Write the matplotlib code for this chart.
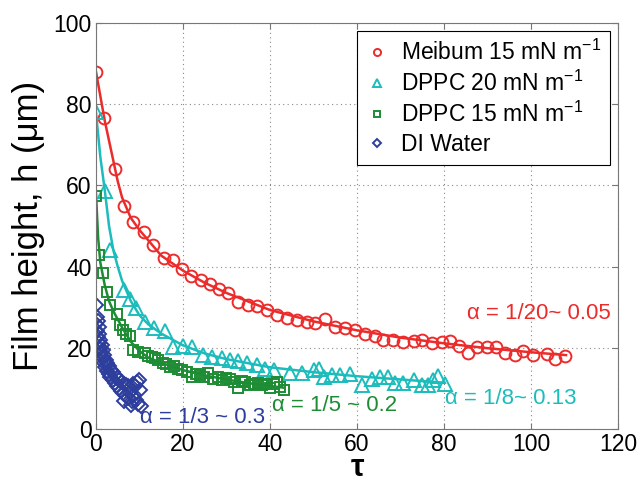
import numpy as np
import matplotlib
matplotlib.use("Agg")
import matplotlib.pyplot as plt

# ---- data ----
meibum_tau = [0, 1.9, 4.4, 6.4, 8.6, 11.0, 13.2, 15.6, 17.8, 19.8, 21.8, 24.1, 26.2, 28.3,
              30.4, 32.6, 34.9, 37.0, 39.2, 41.5, 43.8, 46.1, 48.4, 50.3, 52.6, 54.9, 57.2,
              59.5, 61.8, 64.1, 66.0, 68.3, 70.6, 73.0, 75.0, 77.2, 79.5, 81.4, 83.5, 85.4,
              87.5, 89.8, 92.0, 94.0, 96.3, 98.2, 100.4, 103.6, 105.5, 107.8]
meibum_h = [88, 76.5, 64, 55, 51, 48.5, 45.2, 42.2, 41.5, 39.5, 37.6, 36.6, 35.6, 34.4,
            33.6, 31.4, 30.6, 30.4, 29.2, 28.2, 27.4, 26.8, 26.4, 26.0, 27.0, 25.1, 24.9,
            24.3, 23.5, 22.9, 22.0, 21.9, 21.4, 21.7, 22.0, 21.2, 21.4, 21.7, 20.4, 18.8,
            20.1, 20.2, 20.2, 18.6, 18.2, 19.2, 18.2, 18.4, 17.2, 18.0]
meibum_fit_tau = [0, 1, 2, 3, 4, 5, 6, 8, 10, 12, 15, 20, 25, 30, 40, 50, 60, 70, 80, 90, 100, 108]
meibum_fit_h = [88, 82, 76, 71, 66, 61, 57, 52, 49, 46.5, 42.7, 39, 36, 33.5, 29.3, 26.5,
                24.3, 22.5, 21.1, 19.9, 18.9, 18.2]

dppc20_tau = [0, 2.1, 3.2, 6.5, 7.8, 9.1, 11.3, 13.4, 15.8, 17.8, 20.1, 22.0, 24.7, 26.6,
              28.9, 30.8, 32.7, 34.6, 36.9, 38.9, 40.8, 44.6, 47.3, 50.0, 51.3, 52.3, 54.2,
              56.1, 58.4, 61.1, 63.4, 65.3, 67.2, 68.7, 70.6, 73.0, 74.9, 76.4, 77.5, 78.7, 80.2]
dppc20_h = [78, 58.7, 44, 34.2, 32.1, 29.7, 26.4, 24.9, 24.2, 20.2, 20.4, 20.2, 18.2, 17.8,
            17.4, 17.0, 16.8, 16.3, 15.7, 14.9, 14.5, 13.7, 13.9, 14.5, 14.9, 12.8, 13.3,
            13.3, 13.5, 10.8, 12.4, 12.8, 12.8, 11.4, 11.4, 12.0, 10.8, 10.8, 12.0, 13.0, 11.1]
dppc20_fit_tau = [0, 1, 2, 3, 4, 5, 6, 8, 10, 12, 15, 20, 25, 30, 40, 50, 60, 70, 80]
dppc20_fit_h = [78, 67, 59, 50, 44, 40, 36.5, 31.5, 28, 25.8, 23.5, 20.6, 18.6, 17.2, 15.2,
                14, 13, 12.2, 11.4]

dppc15_tau = [0, 0.7, 1.7, 2.5, 3.2, 4.8, 5.5, 6.3, 7.0, 7.8, 8.6, 9.7, 11.3, 12.0, 12.8,
              13.6, 14.3, 15.5, 16.2, 17.0, 18.0, 18.9, 19.8, 20.8, 22.0, 23.0, 23.9, 24.8,
              25.8, 27.0, 28.0, 28.9, 29.8, 30.8, 31.8, 32.7, 33.5, 34.3, 35.3, 36.2, 37.2,
              38.1, 39.0, 40.0, 40.8, 41.5, 42.3, 43.1]
dppc15_h = [57.5, 42.8, 38.3, 33.7, 30.5, 28.4, 25.5, 24.5, 23.5, 23.0, 19.4, 19.0, 18.6,
            18.0, 17.8, 17.4, 17.0, 16.2, 16.0, 15.3, 15.4, 14.9, 14.5, 14.1, 12.7, 13.6,
            13.3, 12.9, 13.7, 12.4, 12.9, 12.0, 12.6, 12.4, 11.5, 10.0, 11.9, 11.6, 10.8,
            11.2, 11.4, 10.8, 11.0, 10.0, 11.2, 11.6, 10.4, 9.7]
dppc15_fit_tau = [0, 0.5, 1, 2, 3, 4, 5, 6, 8, 10, 12, 15, 20, 25, 30, 35, 40, 43]
dppc15_fit_h = [58, 47, 41, 35.5, 31.5, 29, 27, 25, 21.5, 19.2, 17.6, 16.3, 14.5, 13.2,
                12.2, 11.3, 10.6, 10.2]

water_tau = [0.0, 0.2, 0.4, 0.1, 0.6, 0.3, 0.8, 0.5, 1.0, 0.7, 1.3, 1.0, 1.6, 1.2, 1.9,
             1.5, 2.2, 1.8, 2.6, 2.1, 3.0, 2.5, 3.4, 2.9, 3.9, 3.3, 4.4, 3.8, 4.9, 4.3,
             5.4, 4.8, 5.9, 5.3, 6.4, 5.8, 6.9, 6.3, 7.4, 6.8, 7.9, 7.3, 8.4, 7.8, 8.9,
             8.3, 9.4, 8.8, 9.9, 9.3, 10.2, 9.7, 10.4, 8.0, 6.5]
water_h = [30.5, 27.5, 26.5, 25.8, 25.0, 24.2, 23.5, 22.6, 22.0, 21.2, 20.8, 19.8, 19.5,
           18.6, 18.2, 17.4, 17.0, 16.2, 16.3, 15.3, 15.5, 14.4, 14.6, 13.6, 14.0, 12.8,
           13.2, 12.0, 12.6, 11.3, 12.0, 10.6, 11.6, 10.0, 11.2, 9.4, 10.8, 8.8, 10.5,
           8.2, 10.2, 7.6, 11.0, 9.2, 10.6, 6.8, 11.5, 8.4, 12.0, 7.2, 9.5, 6.2, 5.6, 6.0, 7.0]

labels = ["Meibum 15 mN m$^{-1}$", "DPPC 20 mN m$^{-1}$", "DPPC 15 mN m$^{-1}$", "DI Water"]
alpha_texts = ["α = 1/20~ 0.05", "α = 1/8~ 0.13", "α = 1/5 ~ 0.2", "α = 1/3 ~ 0.3"]

red, cyan, green, blue = "#EC2B2B", "#1DBCBC", "#1E8C34", "#2D3E9C"

plt.rcParams["font.family"] = ["Liberation Sans", "DejaVu Sans"]
plt.rcParams["mathtext.fontset"] = "custom"
plt.rcParams["mathtext.rm"] = "Liberation Sans"
plt.rcParams["mathtext.default"] = "regular"

fig = plt.figure(figsize=(6.42, 4.84), dpi=100)
ax = fig.add_axes([0.1495, 0.1136, 0.8135, 0.839])

mk = dict(linestyle="none", markerfacecolor="none", markeredgewidth=1.4)
ax.plot(meibum_fit_tau, meibum_fit_h, color=red, lw=1.8)
ax.plot(dppc20_fit_tau, dppc20_fit_h, color=cyan, lw=1.8)
ax.plot(dppc15_fit_tau, dppc15_fit_h, color=green, lw=1.8)

h1, = ax.plot(meibum_tau, meibum_h, marker="o", ms=8.5, color=red, label=labels[0], **mk)
h2, = ax.plot(dppc20_tau, dppc20_h, marker="^", ms=9.5, color=cyan, label=labels[1], **mk)
h3, = ax.plot(dppc15_tau, dppc15_h, marker="s", ms=7.5, color=green, label=labels[2], **mk)
h4, = ax.plot(water_tau, water_h, marker="D", ms=7, color=blue, label=labels[3], **mk)

ax.text(85.3, 28.5, alpha_texts[0], color=red, fontsize=16, va="center")
ax.text(80.2, 7.6, alpha_texts[1], color=cyan, fontsize=16, va="center")
ax.text(40.4, 5.7, alpha_texts[2], color=green, fontsize=16, va="center")
ax.text(10.1, 2.9, alpha_texts[3], color=blue, fontsize=16, va="center")

ax.set_xlim(0, 120)
ax.set_ylim(0, 100)
ax.set_xticks(np.arange(0, 121, 20))
ax.set_yticks(np.arange(0, 101, 20))
ax.grid(True, linestyle=(0, (1, 3)), color="#888888", linewidth=0.8)
ax.tick_params(direction="in", labelsize=16.5, top=True, right=True, length=4,
               color="#777777", pad=3)
for s in ax.spines.values():
    s.set_color("#777777")
    s.set_linewidth(0.8)

ax.set_ylabel("Film height, h (μm)", fontsize=25, labelpad=6)
ax.set_xlabel("τ", fontsize=22, fontweight="bold", labelpad=-2)

leg = ax.legend(handles=[h1, h2, h3, h4], loc="upper right", fontsize=16.5,
                markerscale=0.6, handlelength=0.9, handletextpad=0.6,
                borderaxespad=0.35, labelspacing=0.25, fancybox=False,
                framealpha=1, edgecolor="black")
leg.get_frame().set_linewidth(0.8)

fig.savefig("out.png", dpi=100)
